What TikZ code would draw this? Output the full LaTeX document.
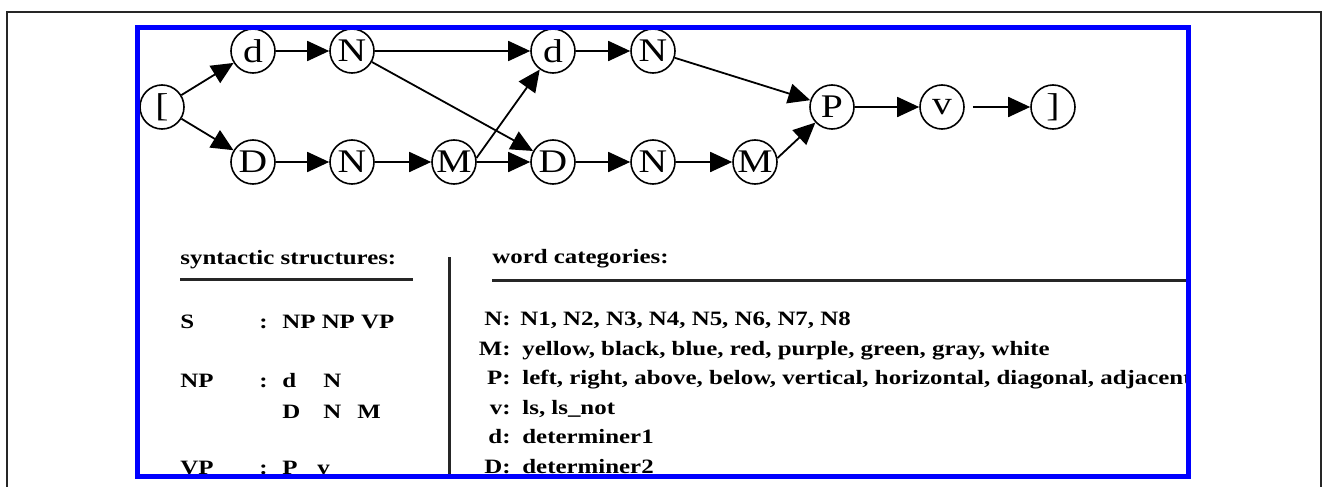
\documentclass[tikz,border=0pt]{standalone}
\usepackage{fontspec}
\setmainfont{Liberation Serif}
\newfontfamily\nodefont[FakeStretch=1.2]{Liberation Serif}
\newfontfamily\tabfont[FakeStretch=1.22]{Liberation Serif}
\usetikzlibrary{arrows.meta}

\tikzset{
  state/.style={circle, draw, line width=0.8pt, minimum size=22pt, inner sep=0pt,
    font=\nodefont\fontsize{16.5}{16.5}\selectfont},
  trans/.style={line width=0.9pt, -{Triangle[length=11pt,width=10pt]}},
  txt/.style={anchor=base west, inner sep=0pt, font=\tabfont\bfseries\fontsize{10.2}{12}\selectfont},
  key/.style={txt, anchor=base east},
  rulebar/.style={line width=1.5pt, black!85},
}

\begin{document}
\begin{tikzpicture}[x=0.5pt, y=-0.5pt]
    \useasboundingbox (0,0) rectangle (1330,487);

    % outer frame
    \draw[line width=1pt, black!85] (7,487) -- (7,12) -- (1321,12) -- (1321,487);

    % States
    \node (open) at (162,107) [state] {[};
    \node (da) at (253,51) [state] {d};
    \node (na) at (352,51) [state] {N};
    \node (Da) at (253,162) [state] {D};
    \node (nb) at (352,162) [state] {N};
    \node (ma) at (454,162) [state] {M};
    \node (db) at (553,51) [state] {d};
    \node (Db) at (553,162) [state] {D};
    \node (nc) at (653,51) [state] {N};
    \node (nd) at (653,162) [state] {N};
    \node (mb) at (755,162) [state] {M};
    \node (p) at (832,107) [state] {P};
    \node (v) at (942,107) [state] {v};
    \node (close) at (1053,107) [state] {]};

    % Transitions
    \draw[trans] (open) -- (da);
    \draw[trans] (open) -- (Da);
    \draw[trans] (da) -- (na);
    \draw[trans] (na) -- (db);
    \draw[trans] (na) -- (Db);
    \draw[trans] (Da) -- (nb);
    \draw[trans] (nb) -- (ma);
    \draw[trans] (ma.east) -- (Db);
    \draw[trans] (ma.10) -- (db);
    \draw[trans] (db) -- (nc);
    \draw[trans] (Db) -- (nd);
    \draw[trans] (nd) -- (mb);
    \draw[trans] (nc) -- (p);
    \draw[trans] (mb.10) -- (p);
    \draw[trans] (p) -- (v);
    \draw[trans, shorten <=4pt] (v) -- (close);

    % Tables
    \begin{scope}
    \clip (137,27) rectangle (1188,476);

    % syntactic structures
    \node (synhead) at (180,264) [txt] {syntactic structures:};
    \coordinate (synl) at (180,279);
    \coordinate (synr) at (413,279);
    \draw[rulebar] (synl) -- (synr);

    \node (ks) at (180,328) [txt] {S};
    \node (cs) at (259,328) [txt] {:};
    \node (rs) at (282,328) [txt] {NP NP VP};

    \node (knp) at (180,387) [txt] {NP};
    \node (cnp) at (259,387) [txt] {:};
    \node (rnpa) at (282,387) [txt] {\makebox[20.5pt][l]{d}N};
    \node (rnpb) at (282,418) [txt] {\makebox[20.5pt][l]{D}\makebox[17pt][l]{N}M};

    \node (kvp) at (180,474) [txt] {VP};
    \node (cvp) at (259,474) [txt] {:};
    \node (rvp) at (282,474) [txt] {\makebox[17.5pt][l]{P}v};

    % divider
    \coordinate (divt) at (449,257);
    \coordinate (divb) at (449,476);
    \draw[rulebar] (divt) -- (divb);

    % word categories
    \node (cathead) at (492,263) [txt] {word categories:};
    \coordinate (catl) at (492,280);
    \coordinate (catr) at (1188,280);
    \draw[rulebar] (catl) -- (catr);

    \node (kn) at (511,325) [key] {N:};
    \node (wn) at (520,325) [txt] {N1, N2, N3, N4, N5, N6, N7, N8};
    \node (km) at (511,355) [key] {M:};
    \node (wm) at (522,355) [txt] {yellow, black, blue, red, purple, green, gray, white};
    \node (kp) at (511,384) [key] {P:};
    \node (wp) at (522,384) [txt] {left, right, above, below, vertical, horizontal, diagonal, adjacent};
    \node (kv) at (511,414) [key] {v:};
    \node (wv) at (522,414) [txt] {ls, ls\_not};
    \node (kd) at (511,443) [key] {d:};
    \node (wd) at (522,443) [txt] {determiner1};
    \node (kD) at (511,473) [key] {D:};
    \node (wD) at (522,473) [txt] {determiner2};
    \end{scope}

    % blue border
    \draw[line width=2.5pt, blue] (137,27) rectangle (1188,476);

\end{tikzpicture}
\end{document}
